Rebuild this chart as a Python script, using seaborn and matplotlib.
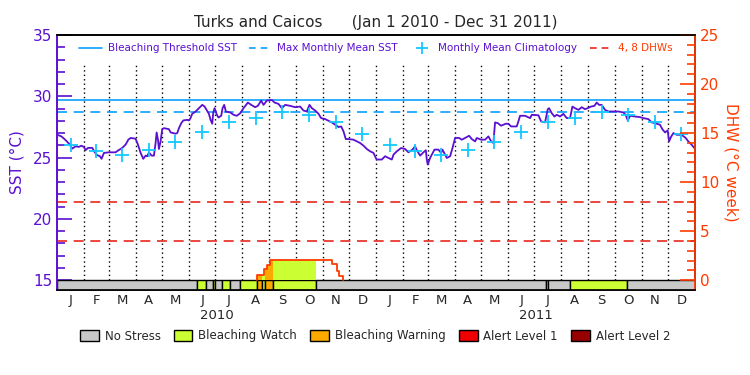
import numpy as np
import pandas as pd
import matplotlib
matplotlib.use('Agg')
import matplotlib.pyplot as plt
import seaborn as sns
from matplotlib.lines import Line2D
from matplotlib.patches import Patch
import matplotlib.transforms as mtransforms

# ---- data (x = days since Jan 1 2010) ----
sst_day = [0, 5, 8.7, 13.7, 17.5, 21.3, 25.1, 27.8, 30.8, 32.7, 35.4, 40.4, 42.3, 45.3, 49.1, 51,
           53.7, 59.4, 67, 69.7, 74.7, 78.5, 81.6, 84.2, 89.9, 92.6, 95.7, 98.7, 101.4, 103.3, 105.2,
           108.2, 110.9, 112.8, 114, 115.5, 116.6, 118.5, 120.4, 122.3, 128, 130, 135.7, 137.6, 139.5,
           142.2, 144.5, 149, 151, 152.8, 154.7, 158.6, 162.4, 166.2, 168.9, 171.1, 173.8, 175.7,
           177.6, 178.8, 180.3, 182.9, 184.8, 187.9, 189.4, 191.3, 193.2, 198.2, 202, 205.8, 209.6,
           213.4, 218.4, 222.2, 226.7, 229.8, 233.6, 236.3, 240.1, 245.8, 248.9, 253.4, 257.2, 261.1,
           266.8, 272.5, 278.2, 282, 285.8, 288.9, 291.6, 295.4, 299.2, 302.2, 306.8, 310.6, 314.4,
           318.2, 322.1, 325.1, 327.8, 330.4, 333.5, 339.2, 343, 346.8, 350.7, 354.5, 358.3, 362.1,
           364.8, 365.9, 371.6, 375.4, 379.2, 383.1, 385, 388.8, 393.7, 398.3, 402.1, 406.7, 409.7,
           411.7, 415.5, 419.3, 422, 423.1, 424.2, 426.9, 431.9, 436.4, 439.5, 441, 444.1, 446,
           449.8, 452.5, 455.5, 460.1, 463.1, 466.9, 471.5, 474.6, 478.4, 480.3, 485.2, 489.8, 493.6,
           496.7, 499.3, 501.2, 504.3, 508.1, 513.4, 516.5, 519.5, 526, 527.9, 529.8, 535.6, 541.3,
           543.2, 550.8, 553.9, 558.4, 561.5, 563, 566.1, 569.1, 571.8, 575.6, 579.4, 583.2, 587,
           589.7, 592.7, 596.6, 600.4, 604.2, 607.2, 611, 614.9, 617.5, 620.2, 623.2, 627.1, 630.9,
           636.6, 642.3, 648, 650.7, 653, 655.7, 661.4, 667.1, 670.9, 676.6, 680.4, 684.2, 689.9,
           692.6, 695.7, 698.7, 700.3, 702.5, 705.2, 709, 714.7, 719.3, 722.3, 726.1, 729.2]
sst_val = [26.87, 26.73, 26.5, 26.14, 25.73, 25.92, 25.87, 25.97, 25.87, 25.6, 25.79, 25.79, 25.54,
           25.22, 25.11, 24.9, 25.38, 25.43, 25.43, 25.57, 25.79, 26.06, 26.46, 26.6, 26.54, 26.06,
           25.38, 24.9, 25.16, 25.11, 25.43, 25.16, 25.16, 26.19, 27.05, 26.46, 25.7, 26.32, 27.32,
           27.4, 27.32, 27.05, 26.95, 27.0, 27.4, 27.81, 28.03, 28.08, 28.03, 28.22, 28.57, 28.76,
           29.03, 29.3, 29.16, 28.89, 28.57, 28.08, 27.76, 28.68, 29.03, 28.49, 28.27, 28.41, 29.03,
           29.3, 28.76, 28.68, 28.49, 28.41, 28.62, 29.03, 29.49, 29.3, 29.11, 29.22, 29.65, 29.3,
           29.65, 29.7, 29.49, 29.38, 29.03, 29.3, 29.22, 29.11, 29.16, 28.84, 28.76, 29.3, 29.03,
           28.84, 28.57, 28.22, 28.14, 28.0, 27.87, 27.68, 27.49, 27.54, 27.14, 26.51, 26.51, 26.46,
           26.32, 26.19, 25.97, 25.7, 25.51, 25.38, 24.97, 24.84, 24.84, 25.11, 24.97, 24.84, 25.24,
           25.51, 25.78, 25.7, 25.43, 25.65, 25.92, 25.6, 25.16, 25.43, 25.6, 24.84, 24.43, 24.97,
           25.65, 25.65, 25.38, 25.65, 25.24, 24.97, 25.11, 25.78, 26.6, 26.6, 26.46, 26.6, 26.78,
           26.51, 26.32, 26.6, 26.46, 26.46, 26.73, 26.32, 26.19, 27.87, 27.81, 27.6, 27.76, 27.76,
           27.54, 27.54, 27.95, 28.41, 28.41, 28.22, 28.49, 28.45, 27.95, 27.87, 28.95, 29.03, 28.62,
           28.35, 28.49, 28.35, 28.57, 28.22, 28.22, 29.16, 29.03, 28.89, 29.11, 28.95, 29.03, 29.16,
           29.22, 29.49, 29.3, 29.3, 28.89, 28.76, 28.76, 28.76, 28.68, 28.49, 28.03, 28.41, 28.35,
           28.3, 28.22, 28.14, 27.87, 27.81, 27.68, 27.32, 27.05, 27.22, 26.32, 26.68, 27.0, 26.86,
           26.86, 26.6, 26.32, 26.05, 25.78]

clim_monthly = [26.0, 25.5, 25.2, 25.65, 26.27, 27.08, 27.89, 28.22, 28.7, 28.45, 27.89, 26.95]
mmm_sst = 28.7
threshold_sst = 29.7
dhw_marks = [4, 8]

dhw_day = [229.4, 229.4, 237, 240.7, 243.8, 314.5, 320.2, 322.8, 327.8]
dhw_val = [0, 0.5, 1.1, 1.5, 2.1, 1.6, 0.95, 0.45, 0]

stress_start = [0, 160.1, 170.7, 178, 180.7, 188.7, 198.2, 208.9, 229.4, 234.4, 238.2, 247.7, 296.5,
                559, 562, 587, 651.7]
stress_end = [160.1, 170.7, 178, 180.7, 188.7, 198.2, 208.9, 229.4, 234.4, 238.2, 247.7, 296.5, 559,
              562, 587, 651.7, 730]
stress_level = [0, 1, 0, 1, 0, 1, 0, 1, 2, 1, 2, 1, 0, 1, 0, 1, 0]

stress_names = ['No Stress', 'Bleaching Watch', 'Bleaching Warning', 'Alert Level 1', 'Alert Level 2']
stress_colors = ['#c8c8c8', '#ccff33', '#fba800', '#f00000', '#960000']
month_letters = ['J', 'F', 'M', 'A', 'M', 'J', 'J', 'A', 'S', 'O', 'N', 'D']
years = ['2010', '2011']

purple = '#5a10d0'
blue = '#0aa0ff'
cyan = '#14c8ff'
orange = '#ff3c00'
red = '#e8281e'

sns.set_style('white')
plt.rcParams['font.family'] = ['DejaVu Sans']

fig = plt.figure(figsize=(7.5, 3.75), dpi=100)
ax = fig.add_axes([0.076, 0.2267, 0.8507, 0.68])
ax2 = ax.twinx()

y_lo = 14.2
ax.set_xlim(0, 730)
ax.set_ylim(y_lo, 35)
ax2.set_ylim((y_lo - 15) * 1.25, 25)

# month boundaries
starts = pd.date_range('2010-01-01', '2012-01-01', freq='MS')
bounds = np.array([(d - starts[0]).days for d in starts])
mids = (bounds[:-1] + bounds[1:]) / 2

for b in bounds[1:-1]:
    ax.plot([b, b], [15, 32.7], color='black', lw=1, ls=(0, (1, 2.2)), zorder=1)

# stress bar
widths = np.array(stress_end) - np.array(stress_start)
ax.bar(stress_start, [15 - y_lo] * len(widths), width=widths, bottom=y_lo, align='edge',
       color=[stress_colors[l] for l in stress_level], edgecolor='black', lw=1, zorder=3)

# reference lines
ax.axhline(threshold_sst, color=blue, lw=1.2, zorder=2)
ax.axhline(mmm_sst, color=blue, lw=1.2, ls=(0, (6, 4)), zorder=2)
for m in dhw_marks:
    ax2.axhline(m, color=red, lw=1.2, ls=(0, (6, 4)), zorder=2)

# SST and climatology
sst = pd.DataFrame({'day': sst_day, 'sst': sst_val})
sns.lineplot(data=sst, x='day', y='sst', ax=ax, color=purple, lw=1.3, estimator=None, sort=False,
             zorder=4)
clim = pd.DataFrame({'day': mids, 'sst': clim_monthly * 2})
ax.scatter(clim['day'], clim['sst'], marker='+', s=110, color=cyan, linewidths=1.3, zorder=5)

# DHW curve with stress fill
dd = np.array(dhw_day)
dv = np.array(dhw_val)


def dhw_at(d):
    i = np.searchsorted(dd, d, side='right') - 1
    return 0.0 if i < 0 else dv[i]


for s, e, l in zip(stress_start, stress_end, stress_level):
    if l == 0:
        continue
    xs = [s] + [d for d in dd if s < d < e] + [e]
    ys = [dhw_at(x) for x in xs]
    ax2.fill_between(xs, 0, ys, step='post', color=stress_colors[l], lw=0, zorder=2)
ax2.plot(dd, dv, drawstyle='steps-post', color=orange, lw=1.3, zorder=3)

# axes styling
ax.set_xticks(mids)
ax.set_xticklabels(month_letters * 2, fontsize=9.5)
ax.tick_params(axis='x', length=0, pad=3)
ax.set_yticks([15, 20, 25, 30, 35])
ax.set_yticks(np.arange(15, 35, 1), minor=True)
ax.tick_params(axis='y', which='both', direction='in', color=purple, labelcolor=purple,
               labelsize=11, width=1.2, left=True)
ax.tick_params(axis='y', which='major', length=11)
ax.tick_params(axis='y', which='minor', length=6)
ax.set_ylabel('SST (°C)', color=purple, fontsize=11, labelpad=6)
ax.set_xlabel('')

ax2.set_yticks([0, 5, 10, 15, 20, 25])
ax2.set_yticks(np.arange(0, 25, 1), minor=True)
ax2.tick_params(axis='y', which='both', direction='in', color=orange, labelcolor=orange,
                labelsize=11, width=1.2, right=True)
ax2.tick_params(axis='y', which='major', length=11)
ax2.tick_params(axis='y', which='minor', length=6)
ax2.set_ylabel('DHW (°C week)', color=orange, fontsize=11, rotation=270, labelpad=14)
ax2.grid(False)
ax.grid(False)

for a in (ax, ax2):
    for sp in a.spines.values():
        sp.set_color('black')
        sp.set_linewidth(1.2)
ax.spines['left'].set_color(purple)
ax2.spines['left'].set_color(purple)
ax2.spines['right'].set_color(orange)

trans = mtransforms.blended_transform_factory(ax.transData, ax.transAxes)
for i, yr in enumerate(years):
    ax.text(bounds[12 * i] + 182.5, -0.10, yr, transform=trans, ha='center', va='center',
            fontsize=9.5)

ax.set_title('Turks and Caicos      (Jan 1 2010 - Dec 31 2011)', fontsize=11, pad=6)

# top legend
handles = [Line2D([], [], color=blue, lw=1.2),
           Line2D([], [], color=blue, lw=1.2, ls=(0, (4, 3))),
           Line2D([], [], color=cyan, marker='+', ls='none', ms=8, mew=1.3),
           Line2D([], [], color=red, lw=1.2, ls=(0, (4, 3)))]
labels = ['Bleaching Threshold SST', 'Max Monthly Mean SST', 'Monthly Mean Climatology', '4, 8 DHWs']
leg = ax2.legend(handles, labels, loc='upper center', bbox_to_anchor=(0.5, 1.0), ncol=4,
                 frameon=False, fontsize=7.5, handlelength=2.2, handletextpad=0.5,
                 columnspacing=1.2, borderaxespad=0.4)
for t, c in zip(leg.get_texts(), [purple, purple, purple, orange]):
    t.set_color(c)

# stress legend
patches = [Patch(facecolor=c, edgecolor='black', lw=1) for c in stress_colors]
fig.legend(patches, stress_names, loc='center', bbox_to_anchor=(0.5, 0.104), ncol=5,
           frameon=False, fontsize=8.5, handlelength=1.6, handleheight=1.1, handletextpad=0.5,
           columnspacing=1.1)

fig.savefig('out.png', dpi=100)
